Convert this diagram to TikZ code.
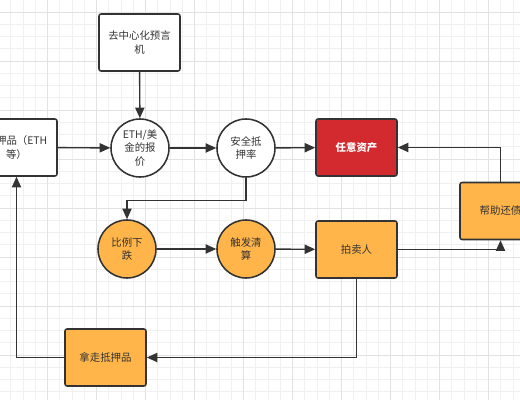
\documentclass[tikz,border=0pt]{standalone}
\usepackage{fontspec}
\newfontfamily\cjk{Noto Sans CJK SC}
\usetikzlibrary{shapes, arrows.meta, positioning, calc}
\definecolor{linegray}{HTML}{333333}
\definecolor{boxorange}{HTML}{FFB54A}
\definecolor{assetred}{HTML}{D32A2F}
\definecolor{gridminor}{HTML}{F0F0F0}
\definecolor{gridmajor}{HTML}{E2E2E2}

\begin{document}
\begin{tikzpicture}[x=0.025cm, y=-0.025cm,
    font=\cjk\fontsize{7.4}{9.6}\selectfont, text=linegray,
    box/.style={draw=linegray, line width=1.1pt, rounded corners=1.5pt, fill=white,
        minimum width=2.025cm, minimum height=1.425cm, align=center, inner sep=1pt},
    disc/.style={circle, draw=linegray, line width=1.1pt, fill=white,
        minimum size=1.45cm, align=center, inner sep=0pt},
    arr/.style={draw=linegray, line width=1pt, -{Triangle[length=7.5pt, width=6.5pt]}}]
                \useasboundingbox (0,0) rectangle (520,400);
                \clip (0,0) rectangle (520,400);
                \fill[white] (0,0) rectangle (520,400);

                % Сетка
                \foreach \i in {0,...,43}
                    \draw[gridminor, line width=0.5pt] ({-1.5+12.25*\i},0) -- ++(0,400);
                \foreach \i in {0,...,33}
                    \draw[gridminor, line width=0.5pt] (0,{-0.25+12.25*\i}) -- ++(520,0);
                \foreach \i in {0,...,11}
                    \draw[gridmajor, line width=0.6pt] ({-1.5+49*\i},0) -- ++(0,400);
                \foreach \i in {0,...,8}
                    \draw[gridmajor, line width=0.6pt] (0,{12+49*\i}) -- ++(520,0);

                % Верхний ряд
                \node[box] (oracle) at (139.5, 42.5) {去中心化预言\\机};
                \node[box] (collat) at (16.5, 147.5) {抵押品（ETH\\等）};
                \node[disc] (price) at (140, 148) {ETH/美\\金的报\\价};
                \node[disc] (ratio) at (246, 148) {安全抵\\押率};
                \node[box, fill=assetred, text=white, font=\cjk\fontsize{7.4}{9.6}\selectfont\bfseries] (asset) at (356.5, 147.5) {任意资产};

                %清算
                \node[disc, fill=boxorange] (drop) at (127, 249) {比例下\\跌};
                \node[disc, fill=boxorange] (trigger) at (246, 249) {触发清\\算};
                \node[box, fill=boxorange] (auction) at (356.5, 249.5) {拍卖人};
                \node[box, fill=boxorange] (helpdebt) at (500.5, 211) {帮助还债};
                \node[box, fill=boxorange] (takeaway) at (105.5, 357.5) {拿走抵押品};

                % Стрелки
                \draw[arr] (oracle) -- (price);
                \draw[arr] (collat) -- (price);
                \draw[arr] (price) -- (ratio);
                \draw[arr] (ratio) -- (asset);
                \draw[arr] (ratio.south) -- ++(0,23) -| (drop.north);
                \draw[arr] (drop) -- (trigger);
                \draw[arr] (trigger) -- (auction);
                \draw[arr] (auction.east) -| (helpdebt.south);
                \draw[arr] (helpdebt.north) |- (asset.east);
                \draw[arr] (auction.south) |- (takeaway.east);
                \draw[arr] (takeaway.west) -| (collat.south);
            \end{tikzpicture}
\end{document}
